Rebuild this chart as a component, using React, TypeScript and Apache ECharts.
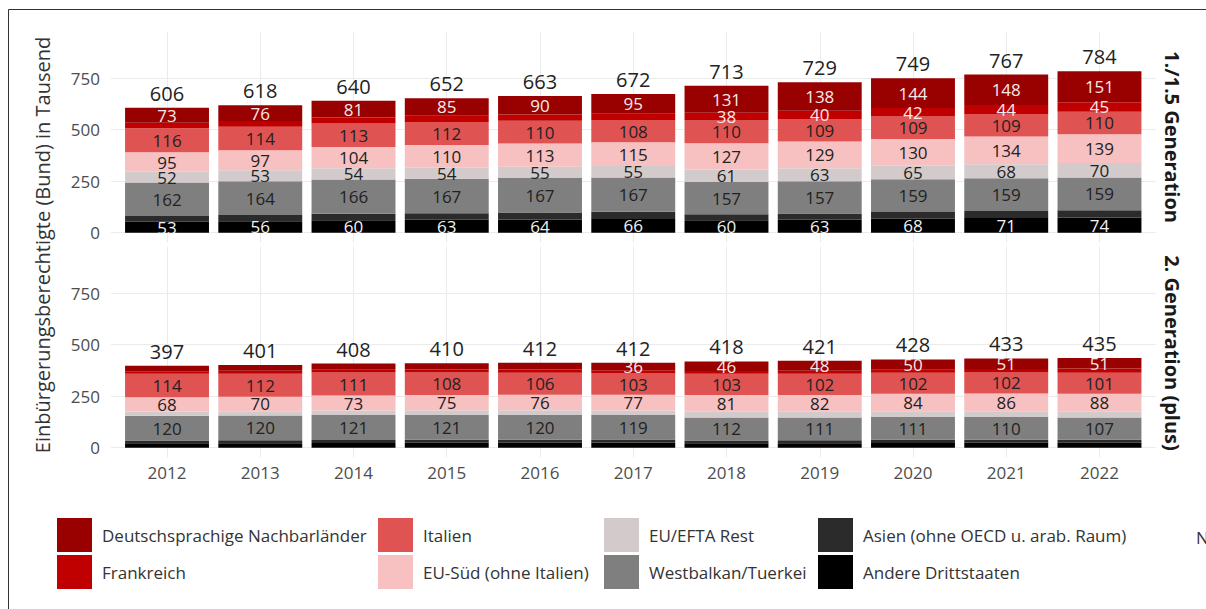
import React, { useEffect, useRef } from "react";
import * as echarts from "echarts";

const years = ["2012", "2013", "2014", "2015", "2016", "2017", "2018", "2019", "2020", "2021", "2022"];
const yTicks = [0, 250, 500, 750];

const categoryNames = [
  "Andere Drittstaaten",
  "Asien (ohne OECD u. arab. Raum)",
  "Westbalkan/Tuerkei",
  "EU/EFTA Rest",
  "EU-Süd (ohne Italien)",
  "Italien",
  "Frankreich",
  "Deutschsprachige Nachbarländer",
];
const categoryColors = ["#000000", "#2b2b2b", "#7f7f7f", "#d3cbcb", "#f7c1c1", "#e05353", "#c00000", "#990000"];
const labelColors = ["#f2f2f2", "#f2f2f2", "#222222", "#222222", "#222222", "#222222", "#f5eaea", "#f5eaea"];

// 1./1.5 Generation (Tausend)
const gen1Andere = [53, 56, 60, 63, 64, 66, 60, 63, 68, 71, 74];
const gen1Asien = [28, 30, 32, 31, 34, 35, 29, 30, 32, 34, 35];
const gen1Westbalkan = [162, 164, 166, 167, 167, 167, 157, 157, 159, 159, 159];
const gen1EftaRest = [52, 53, 54, 54, 55, 55, 61, 63, 65, 68, 70];
const gen1EuSued = [95, 97, 104, 110, 113, 115, 127, 129, 130, 134, 139];
const gen1Italien = [116, 114, 113, 112, 110, 108, 110, 109, 109, 109, 110];
const gen1Frankreich = [27, 28, 30, 30, 30, 31, 38, 40, 42, 44, 45];
const gen1Deutsch = [73, 76, 81, 85, 90, 95, 131, 138, 144, 148, 151];
const gen1Totals = [606, 618, 640, 652, 663, 672, 713, 729, 749, 767, 784];

// 2. Generation (plus) (Tausend)
const gen2Andere = [21, 22, 23, 24, 24, 25, 21, 22, 23, 24, 24];
const gen2Asien = [14, 14, 14, 14, 15, 15, 14, 14, 15, 15, 15];
const gen2Westbalkan = [120, 120, 121, 121, 120, 119, 112, 111, 111, 110, 107];
const gen2EftaRest = [21, 21, 22, 22, 22, 21, 27, 27, 28, 28, 28];
const gen2EuSued = [68, 70, 73, 75, 76, 77, 81, 82, 84, 86, 88];
const gen2Italien = [114, 112, 111, 108, 106, 103, 103, 102, 102, 102, 101];
const gen2Frankreich = [13, 14, 14, 15, 16, 16, 14, 15, 15, 17, 21];
const gen2Deutsch = [26, 28, 30, 31, 33, 36, 46, 48, 50, 51, 51];
const gen2Totals = [397, 401, 408, 410, 412, 412, 418, 421, 428, 433, 435];

const gen1Data = [gen1Andere, gen1Asien, gen1Westbalkan, gen1EftaRest, gen1EuSued, gen1Italien, gen1Frankreich, gen1Deutsch];
const gen2Data = [gen2Andere, gen2Asien, gen2Westbalkan, gen2EftaRest, gen2EuSued, gen2Italien, gen2Frankreich, gen2Deutsch];

const FONT = "Open Sans";

export default function App() {
  const ref = useRef<HTMLDivElement>(null);

  useEffect(() => {
    if (!ref.current) return;
    const chart = echarts.init(ref.current, undefined, { renderer: "svg" });

    const yMin = -48;
    const yMax = 975;
    const gridTop1 = 31.6;
    const gridTop2 = 246.6;
    const gridH = 211;
    const backLeft = 111;
    const backW = 1044.5;
    const barLeft = 120.4;
    const barW = 1025.7;
    const gridColor = "#ebebeb";

    const grids = [
      { left: backLeft, top: gridTop1, width: backW, height: gridH },
      { left: barLeft, top: gridTop1, width: barW, height: gridH },
      { left: backLeft, top: gridTop2, width: backW, height: gridH },
      { left: barLeft, top: gridTop2, width: barW, height: gridH },
    ];

    const xTickVals = years.map((_, i) => i);

    const backX = (gi: number) => ({
      type: "value",
      gridIndex: gi,
      min: -0.6,
      max: 10.6,
      axisLine: { show: false },
      axisTick: { show: false, customValues: xTickVals },
      axisLabel: { show: false, customValues: xTickVals },
      splitLine: { show: true, lineStyle: { color: gridColor, width: 1 } },
    });
    const barX = (gi: number, showLabels: boolean) => ({
      type: "category",
      gridIndex: gi,
      data: years,
      axisLine: { show: false },
      axisTick: { show: false },
      splitLine: { show: false },
      axisLabel: { show: showLabels, fontSize: 17, color: "#4d4d4d", margin: 6, fontFamily: FONT },
    });
    const backY = (gi: number) => ({
      type: "value",
      gridIndex: gi,
      min: yMin,
      max: yMax,
      axisLine: { show: false },
      axisTick: { show: false, customValues: yTicks },
      axisLabel: { customValues: yTicks, fontSize: 17, color: "#4d4d4d", margin: 11, fontFamily: FONT },
      splitLine: { show: true, lineStyle: { color: gridColor, width: 1 } },
    });
    const barY = (gi: number) => ({
      type: "value",
      gridIndex: gi,
      min: yMin,
      max: yMax,
      show: false,
      splitLine: { show: false },
    });

    const series: any[] = [];
    const addPanel = (data: number[][], totals: number[], axisIdx: number, stack: string) => {
      data.forEach((vals, k) => {
        series.push({
          type: "bar",
          name: categoryNames[k],
          stack,
          xAxisIndex: axisIdx,
          yAxisIndex: axisIdx,
          barWidth: "90%",
          data: vals,
          itemStyle: { color: categoryColors[k] },
          label: {
            show: true,
            position: "inside",
            fontSize: 17,
            fontFamily: FONT,
            color: labelColors[k],
            formatter: (p: any) => (p.value >= 36 ? String(p.value) : ""),
          },
          emphasis: { disabled: true },
        });
      });
      series.push({
        type: "scatter",
        xAxisIndex: axisIdx,
        yAxisIndex: axisIdx,
        data: totals.map((t, i) => [i, t]),
        symbolSize: 1,
        itemStyle: { color: "rgba(0,0,0,0)" },
        silent: true,
        label: {
          show: true,
          position: "top",
          distance: 4,
          fontSize: 20,
          fontFamily: FONT,
          color: "#222222",
          opacity: 1,
          formatter: (p: any) => String(p.value[1]),
        },
      });
    };
    addPanel(gen1Data, gen1Totals, 1, "gen1");
    addPanel(gen2Data, gen2Totals, 3, "gen2");

    const legendCols = [
      { left: 57, names: [categoryNames[7], categoryNames[6]] },
      { left: 378, names: [categoryNames[5], categoryNames[4]] },
      { left: 604, names: [categoryNames[3], categoryNames[2]] },
      { left: 818, names: [categoryNames[1], categoryNames[0]] },
    ];
    const legends = legendCols.map((c) => ({
      orient: "vertical",
      left: c.left,
      top: 518,
      padding: 0,
      itemWidth: 35,
      itemHeight: 34,
      itemGap: 3,
      icon: "rect",
      selectedMode: false,
      data: c.names,
      textStyle: { fontSize: 17, color: "#333333", fontFamily: FONT, padding: [0, 0, 0, 5] },
    }));

    chart.setOption({
      animation: false,
      backgroundColor: "#ffffff",
      grid: grids,
      xAxis: [backX(0), barX(1, false), backX(2), barX(3, true)],
      yAxis: [backY(0), barY(1), backY(2), barY(3)],
      legend: legends,
      series,
      graphic: [
        {
          type: "line",
          shape: { x1: 8.5, y1: 9.5, x2: 1206, y2: 9.5 },
          style: { stroke: "#333333", lineWidth: 1 },
          silent: true,
        },
        {
          type: "line",
          shape: { x1: 8.5, y1: 9.5, x2: 8.5, y2: 609 },
          style: { stroke: "#333333", lineWidth: 1 },
          silent: true,
        },
        {
          type: "text",
          x: 42,
          y: 245,
          rotation: Math.PI / 2,
          style: {
            text: "Einbürgerungsberechtigte (Bund) in Tausend",
            fontSize: 20,
            fontFamily: FONT,
            fill: "#333333",
            textAlign: "center",
            textVerticalAlign: "middle",
          },
          silent: true,
        },
        {
          type: "text",
          x: 1172,
          y: 137,
          rotation: -Math.PI / 2,
          style: {
            text: "1./1.5 Generation",
            fontSize: 20,
            fontWeight: "bold",
            fontFamily: FONT,
            fill: "#1a1a1a",
            textAlign: "center",
            textVerticalAlign: "middle",
          },
          silent: true,
        },
        {
          type: "text",
          x: 1172,
          y: 353,
          rotation: -Math.PI / 2,
          style: {
            text: "2. Generation (plus)",
            fontSize: 20,
            fontWeight: "bold",
            fontFamily: FONT,
            fill: "#1a1a1a",
            textAlign: "center",
            textVerticalAlign: "middle",
          },
          silent: true,
        },
        {
          type: "text",
          x: 1196,
          y: 537,
          style: {
            text: "N",
            fontSize: 17,
            fontFamily: FONT,
            fill: "#333333",
            textAlign: "left",
            textVerticalAlign: "middle",
          },
          silent: true,
        },
      ],
    });

    return () => {
      chart.dispose();
    };
  }, []);

  return (
    <div
      ref={ref}
      style={{ position: "absolute", left: 0, top: 0, width: 1206, height: 609 }}
    />
  );
}
